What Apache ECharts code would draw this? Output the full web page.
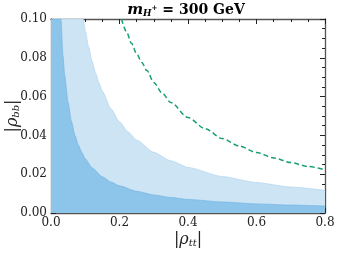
<!DOCTYPE html>
<html>
<head>
<meta charset="utf-8">
<script src="https://cdn.jsdelivr.net/npm/echarts@6/dist/echarts.min.js"></script>
<style>html,body{margin:0;padding:0;background:#fff}#c{width:339px;height:254px}</style>
</head>
<body>
<div id="c"></div>
<script>
// |rho_tt| vs |rho_bb| boundaries
const darkEdge = [[0,0.1],[0.029,0.1],[0.035,0.081],[0.04,0.071],[0.05,0.057],[0.06,0.047],[0.07,0.040],[0.08,0.035],[0.09,0.0312],[0.1,0.028],[0.12,0.0233],[0.15,0.0187],[0.175,0.016],[0.2,0.014],[0.25,0.0112],[0.3,0.0093],[0.35,0.008],[0.4,0.007],[0.5,0.0057],[0.6,0.0047],[0.7,0.0041],[0.8,0.0036]];
const lightEdge = [[0,0.1],[0.094,0.1],[0.1,0.094],[0.11,0.0855],[0.12,0.0783],[0.13,0.0723],[0.14,0.0671],[0.15,0.0627],[0.175,0.0537],[0.2,0.047],[0.225,0.0418],[0.25,0.0376],[0.3,0.0313],[0.35,0.0269],[0.4,0.0235],[0.5,0.0188],[0.6,0.0157],[0.7,0.0134],[0.8,0.0117]];
const greenCurve = [[0.206,0.1],[0.22,0.0935],[0.235,0.0875],[0.25,0.0822],[0.265,0.0776],[0.28,0.0734],[0.3,0.0673],[0.325,0.0617],[0.35,0.0569],[0.4,0.0492],[0.45,0.0435],[0.5,0.0384],[0.55,0.0345],[0.6,0.0312],[0.65,0.0284],[0.7,0.0260],[0.75,0.0240],[0.8,0.0222]];
const xTicks = [0, 0.2, 0.4, 0.6, 0.8];
const yTicks = [0, 0.02, 0.04, 0.06, 0.08, 0.10];

const F = 'DejaVu Serif';
const axisCol = '#555';
const chart = echarts.init(document.getElementById('c'));
const baseAxis = {
  axisLine: {show: true, onZero: false, lineStyle: {color: axisCol, width: 1.3}},
  axisTick: {show: true, inside: true, length: 5, lineStyle: {color: '#222', width: 1}},
  minorTick: {show: true, splitNumber: 4, length: 3, lineStyle: {color: '#222', width: 1}},
  splitLine: {show: false},
  minorSplitLine: {show: false}
};
const nameRich = {a: {fontFamily: F, fontSize: 16, fontStyle: 'italic', color: '#222'}, s: {fontFamily: F, fontSize: 10, fontStyle: 'italic', color: '#222', padding: [6,0,0,0]}};
chart.setOption({
  animation: false,
  title: {
    text: '{m|m}{sub|H}{sup|+}{t| = 300 GeV}',
    left: 181, top: -3, textAlign: 'center',
    textStyle: {
      rich: {
        m: {fontFamily: F, fontSize: 15, fontWeight: 'bold', fontStyle: 'italic', color: '#000'},
        sub: {fontFamily: F, fontSize: 9, fontWeight: 'bold', fontStyle: 'italic', color: '#000', padding: [7,0,0,0]},
        sup: {fontFamily: F, fontSize: 7, fontWeight: 'bold', color: '#000', padding: [0,0,4,0]},
        t: {fontFamily: F, fontSize: 14, fontWeight: 'bold', color: '#000'}
      }
    }
  },
  grid: {left: 51, right: 14, top: 19, bottom: 41, containLabel: false, outerBoundsMode: 'none'},
  xAxis: [
    Object.assign({}, baseAxis, {
      type: 'value', min: 0, max: 0.8, interval: 0.2,
      axisLabel: {fontFamily: F, fontSize: 12, color: '#222', margin: 4, formatter: v => v.toFixed(1)},
      name: '{a||ρ}{s|tt}{a||}', nameLocation: 'middle', nameGap: 19, nameMoveOverlap: false,
      nameTextStyle: {rich: nameRich}
    }),
    Object.assign({}, baseAxis, {
      type: 'value', min: 0, max: 0.8, interval: 0.2, position: 'top',
      axisLabel: {show: false}
    })
  ],
  yAxis: [
    Object.assign({}, baseAxis, {
      type: 'value', min: 0, max: 0.1, interval: 0.02,
      axisLabel: {fontFamily: F, fontSize: 12, color: '#222', margin: 4, formatter: v => v.toFixed(2)},
      name: '{a||ρ}{s|bb}{a||}', nameLocation: 'middle', nameGap: 30, nameRotate: 90, nameMoveOverlap: false,
      nameTextStyle: {rich: nameRich}
    }),
    Object.assign({}, baseAxis, {
      type: 'value', min: 0, max: 0.1, interval: 0.02, position: 'right',
      axisLabel: {show: false}
    })
  ],
  series: [
    {type: 'line', data: lightEdge, symbol: 'none', smooth: 0.2, smoothMonotone: 'x', z: 1,
     lineStyle: {color: '#a9d0ee', width: 0.6}, areaStyle: {color: '#cde4f5', opacity: 1}},
    {type: 'line', data: darkEdge, symbol: 'none', smooth: 0.2, smoothMonotone: 'x', z: 2,
     lineStyle: {color: '#6fb0e0', width: 0.6}, areaStyle: {color: '#8dc4ea', opacity: 1}},
    {type: 'line', data: greenCurve, symbol: 'none', smooth: 0.3, smoothMonotone: 'x', z: 3,
     lineStyle: {color: '#1b9e77', width: 1.5, type: [5, 3]}}
  ]
});
</script>
</body>
</html>
